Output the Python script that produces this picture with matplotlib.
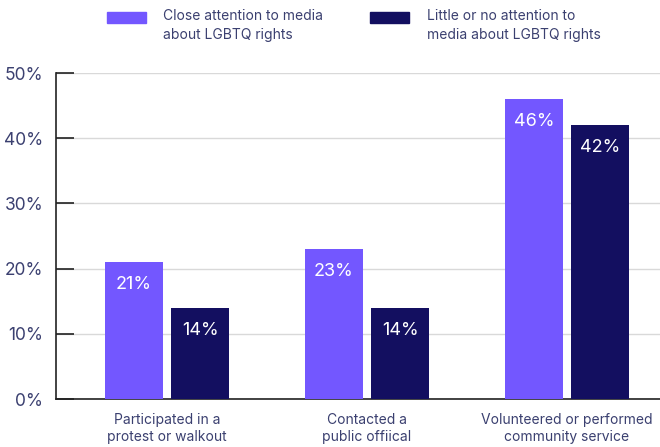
import matplotlib.pyplot as plt
from matplotlib.patches import Rectangle
import numpy as np

categories = ["Participated in a\nprotest or walkout",
              "Contacted a\npublic offiical",
              "Volunteered or performed\ncommunity service"]
close_attention = [21, 23, 46]
little_attention = [14, 14, 42]
series_names = ["Close attention to media\nabout LGBTQ rights",
                "Little or no attention to\nmedia about LGBTQ rights"]
yticks = [0, 10, 20, 30, 40, 50]

light = "#7357ff"
dark = "#130f60"
txt = "#3b4070"

plt.rcParams['font.family'] = ['Inter', 'DejaVu Sans']

W, H = 660, 447
fig = plt.figure(figsize=(6.6, 4.47), dpi=100)
ax = fig.add_axes([56/W, 1-399/H, 604/W, 326/H])

x = np.arange(len(categories))
w = 0.29
off = 0.166
b1 = ax.bar(x - off, close_attention, w, color=light, zorder=3)
b2 = ax.bar(x + off, little_attention, w, color=dark, zorder=3)

for bars, vals in ((b1, close_attention), (b2, little_attention)):
    for r, v in zip(bars, vals):
        ax.text(r.get_x() + r.get_width()/2, v - 3.5, f"{v}%", ha='center', va='center',
                color='white', fontsize=13, zorder=4)

ax.set_xlim(-0.555, 2.465)
ax.set_ylim(0, 50)
ax.set_yticks(yticks)
ax.set_yticklabels([f"{t}%" for t in yticks], color=txt, fontsize=12.5)
ax.tick_params(axis='y', direction='in', length=13, width=1.2, pad=9, color='#222222')
ax.set_xticks(x)
ax.set_xticklabels(categories, color=txt, fontsize=10, linespacing=1.3)
ax.tick_params(axis='x', length=0, pad=10)
ax.grid(axis='y', color='#d9d9d9', linewidth=1, zorder=0)
for s in ['top', 'right']:
    ax.spines[s].set_visible(False)
ax.spines['left'].set_linewidth(1.2)
ax.spines['bottom'].set_linewidth(1.2)
ax.spines['left'].set_color('#222222')
ax.spines['bottom'].set_color('#222222')

# legend drawn by hand: swatch beside first line of a two-line label
for name, col, px, tx in ((series_names[0], light, 107, 163), (series_names[1], dark, 370, 427)):
    fig.patches.append(Rectangle((px/W, 1-23/H), 39/W, 11/H, transform=fig.transFigure,
                                 color=col, figure=fig))
    fig.text(tx/W, 1-9/H, name, ha='left', va='top', fontsize=10, color=txt,
             linespacing=1.45)

fig.savefig("out.png", dpi=100)
